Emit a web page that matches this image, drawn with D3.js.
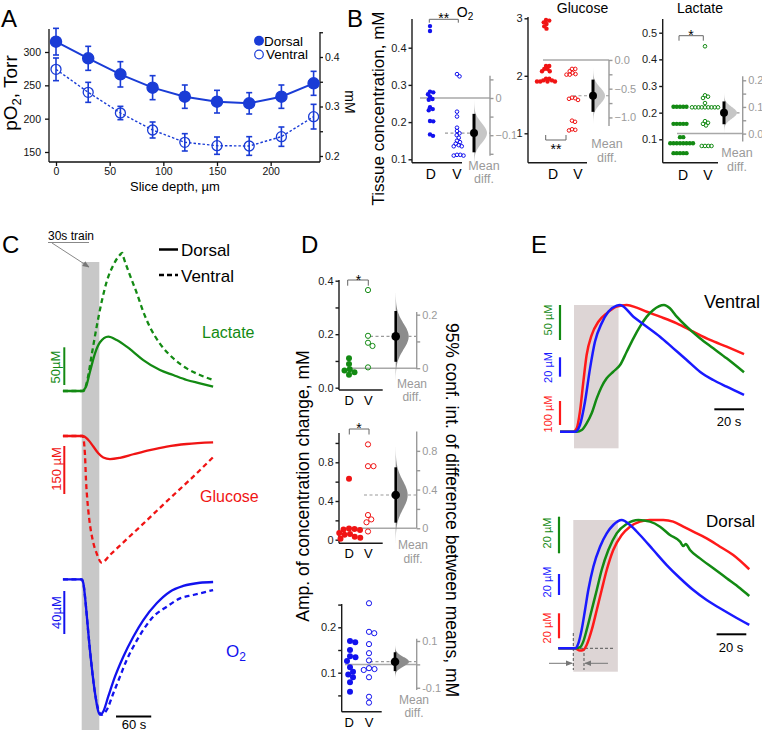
<!DOCTYPE html>
<html>
<head>
<meta charset="utf-8">
<script src="https://d3js.org/d3.v7.min.js"></script>
<style>
html,body{margin:0;padding:0;background:#fff;}
svg{display:block;}
</style>
</head>
<body>
<svg id="fig" width="762" height="730" viewBox="0 0 762 730"></svg>
<script>
// ======================= DATA =======================
// Panel A : pO2 vs slice depth
const depthA = [0, 30, 60, 90, 120, 150, 180, 210, 240];
const pO2Dorsal = [315.5, 290.5, 266.5, 246.5, 233, 225.5, 223, 233, 253];
const pO2DorsalErr = [20, 18, 19, 18, 17.5, 17, 16, 17.5, 18];
const pO2Ventral = [274, 239.5, 208.5, 183, 164.5, 159.5, 159, 173, 203];
const pO2VentralErr = [17, 15, 10, 12, 13, 13, 14, 14.5, 18.5];
const pO2Ticks = [150, 200, 250, 300];
const depthTicks = [0, 50, 100, 150, 200];
const mMTicks = [0.2, 0.25, 0.3, 0.35, 0.4, 0.45];
const mMLabels = ["0.2", "", "0.3", "", "0.4", ""];

// Panel B : tissue concentrations (mM)
const tissueO2_D = [0.458, 0.445, 0.282, 0.280, 0.275, 0.268, 0.262, 0.260, 0.240, 0.235, 0.232, 0.203, 0.202, 0.167, 0.163];
const tissueO2_V = [0.329, 0.323, 0.228, 0.215, 0.185, 0.176, 0.170, 0.165, 0.158, 0.150, 0.146, 0.142, 0.138, 0.135, 0.135, 0.112, 0.112, 0.110, 0.110];
const tissueGlc_D = [2.97, 2.96, 2.93, 2.90, 2.86, 2.82, 2.17, 2.17, 2.12, 2.12, 2.08, 2.08, 1.95, 1.92, 1.90, 1.90, 1.90, 1.90, 1.92, 1.95];
const tissueGlc_V = [2.12, 2.12, 2.08, 2.05, 2.03, 2.02, 2.02, 1.62, 1.61, 1.60, 1.58, 1.22, 1.20, 1.07, 1.06, 1.05];
const tissueLac_D = [0.222, 0.222, 0.222, 0.222, 0.222, 0.158, 0.158, 0.158, 0.158, 0.158, 0.108, 0.108,
  0.085, 0.085, 0.085, 0.085, 0.085, 0.085, 0.085, 0.085, 0.048, 0.048, 0.048, 0.048, 0.048];
const tissueLac_V = [0.449, 0.265, 0.260, 0.255, 0.236, 0.22, 0.22, 0.22, 0.22, 0.22, 0.22, 0.22, 0.22, 0.22,
  0.168, 0.162, 0.158, 0.152, 0.075, 0.075, 0.075, 0.075];
const bO2Ticks = [0.1, 0.2, 0.3, 0.4], bO2Labels = ["0.1", "0.2", "0.3", "0.4"];
const bO2DiffTicks = [0.05, 0, -0.05, -0.1, -0.15], bO2DiffLabels = ["", "0", "", "\u22120.1", ""];
const bGlcTicks = [1, 2, 3], bGlcLabels = ["1", "2", "3"];
const bGlcDiffTicks = [0, -0.25, -0.5, -0.75, -1.0], bGlcDiffLabels = ["0.0", "", "\u22120.5", "", "\u22121.0"];
const bLacTicks = [0.1, 0.2, 0.3, 0.4, 0.5], bLacLabels = ["0.1", "0.2", "0.3", "0.4", "0.5"];
const bLacDiffTicks = [0, 0.05, 0.1, 0.15, 0.2], bLacDiffLabels = ["0.0", "", "0.1", "", "0.2"];

// Panel C : responses to 30 s train  [time s, change µM]
const cLacDorsal = [[-32,0],[0,0],[7.3,5.7],[14.1,25.6],[22.7,50],[31.2,64.6],[45.3,72],[59.6,67.6],[76.7,58.8],[87.9,52],[105,41],[133.4,27.9],[156,21.2],[179,14.6],[201.5,10.2],[224,5.7]];
const cLacVentral = [[-32,0],[3,0],[9.6,14.6],[17,47.7],[25.5,85.3],[34,118.4],[42.6,145],[53.9,167],[65,180.4],[69,183],[71,178],[82,154],[94,129.6],[105,105],[116,85.3],[133,63.2],[156,43.4],[179,30],[201.5,21.2],[224,14.6]];
const cGlcDorsal = [[-32,0],[1.7,0],[11.3,-12.5],[19.8,-33],[28.3,-54],[36.8,-67],[48.2,-72],[65.2,-68],[88,-57],[116,-44],[145,-33],[179,-25],[224,-20]];
const cGlcVentral = [[-32,0],[1.7,0],[5.6,-59],[7.3,-137],[9.6,-200],[13,-262],[18.7,-325],[25.5,-367],[34,-396],[48,-372],[77,-322],[105,-274],[133,-225],[162,-175],[185,-136],[224,-66]];
const cO2Dorsal = [[-32,0],[0,0],[2.8,-3.7],[7.3,-25.5],[11.3,-50],[17,-81],[22.7,-106],[28.3,-123],[31.2,-126],[36.8,-123],[45.3,-109],[56.7,-90.6],[70.9,-72],[88,-53.4],[105,-37.9],[127.8,-22.3],[150.4,-11.5],[173,-6.2],[201.5,-3.2],[224,-2.5]];
const cO2Ventral = [[-32,0],[0,0],[2.8,-3.7],[7.3,-25.5],[11.3,-50],[17,-81],[22.7,-106],[28.3,-121],[34,-126],[42.6,-121.6],[53.9,-106],[65.2,-90.6],[76.7,-75],[88,-62.7],[105,-47],[122,-34.8],[145,-25.5],[167.5,-17.7],[190,-14.6],[224,-10]];

// Panel D : amplitude of concentration change (mM)
const ampLac_D = [0.110, 0.089, 0.069, 0.064, 0.058, 0.048];
const ampLac_V = [0.365, 0.194, 0.168, 0.156, 0.076];
const ampGlc_D = [0.63, 0.115, 0.11, 0.105, 0.10, 0.07, 0.06, 0.05, 0.03, 0.02, 0.01];
const ampGlc_V = [0.985, 0.76, 0.76, 0.255, 0.21, 0.18, 0.085];
const ampO2_D = [0.170, 0.167, 0.150, 0.136, 0.134, 0.126, 0.112, 0.102, 0.096, 0.090, 0.079, 0.058];
const ampO2_V = [0.253, 0.190, 0.187, 0.163, 0.143, 0.127, 0.110, 0.108, 0.106, 0.090, 0.047, 0.034];
const dLacTicks = [0, 0.1, 0.2, 0.3, 0.4], dLacLabels = ["0.0", "", "0.2", "", "0.4"];
const dLacDiffTicks = [0, 0.1, 0.2], dLacDiffLabels = ["0", "", "0.2"];
const dGlcTicks = [0, 0.2, 0.4, 0.6, 0.8, 1.0], dGlcLabels = ["0", "", "0.4", "", "0.8", ""];
const dGlcDiffTicks = [0, 0.2, 0.4, 0.6, 0.8], dGlcDiffLabels = ["0", "", "0.4", "", "0.8"];
const dO2Ticks = [0.05, 0.1, 0.15, 0.2, 0.25], dO2Labels = ["", "0.1", "", "0.2", ""];
const dO2DiffTicks = [0.1, 0, -0.1], dO2DiffLabels = ["0.1", "", "-0.1"];

// Panel E : normalised responses [time s, normalised]
const eVentralRed = [[-9.4,0],[-0.5,0],[1.8,0.026],[4,0.158],[6.3,0.395],[8.5,0.605],[11.9,0.763],[16.4,0.868],[22,0.934],[28.7,0.987],[35.5,1],[42.2,0.979],[49,0.947],[57.9,0.908],[69.2,0.855],[80.3,0.789],[91.6,0.724],[102.8,0.671],[114.5,0.613]];
const eVentralGreen = [[-9.4,0],[1.8,0],[5.2,0.013],[8.5,0.066],[11.9,0.145],[15.3,0.263],[18.6,0.355],[22,0.421],[26.5,0.474],[31,0.526],[35.5,0.631],[40,0.737],[44.4,0.829],[49,0.908],[53.4,0.961],[60.6,1],[64.6,0.974],[69.2,0.908],[75.9,0.829],[84.8,0.737],[93.8,0.658],[102.8,0.579],[114.5,0.469]];
const eVentralBlue = [[-9.4,0],[0.7,0],[4,0.053],[7.4,0.237],[10.8,0.5],[14.1,0.71],[18.6,0.855],[23.1,0.947],[28.7,0.995],[31,1],[40,0.908],[49,0.829],[57.9,0.75],[66.9,0.658],[75.9,0.566],[84.8,0.474],[93.8,0.408],[102.8,0.355],[114.5,0.29]];
const eDorsalRed = [[-10.1,0],[1.1,0],[4.5,-0.018],[6.7,-0.013],[9,0.026],[12.4,0.143],[15.8,0.299],[19.1,0.454],[22.5,0.61],[26.9,0.766],[32.6,0.883],[38.2,0.948],[44.9,0.987],[51.6,1],[60.6,1],[67.3,0.987],[74.1,0.948],[80.8,0.909],[89.8,0.857],[98.8,0.792],[107.7,0.727],[118.5,0.616]];
const eDorsalGreen = [[-10.1,0],[1.1,0],[4.5,0.008],[6.7,0.052],[9,0.143],[12.4,0.299],[15.8,0.454],[19.1,0.61],[23.6,0.766],[29.2,0.896],[36,0.969],[43.8,1],[51.6,0.987],[58.4,0.948],[65.1,0.883],[71.9,0.831],[74.1,0.797],[75.7,0.813],[78.6,0.766],[85.3,0.701],[94.3,0.624],[103.3,0.546],[112.3,0.468],[118.5,0.408]];
const eDorsalBlue = [[-10.1,0],[1.1,0],[3.4,0.039],[5.6,0.143],[7.9,0.299],[10.1,0.454],[13.5,0.636],[18,0.792],[22.5,0.896],[26.9,0.961],[32.6,1],[38.2,0.961],[44.9,0.883],[53.9,0.766],[62.9,0.649],[71.9,0.546],[80.8,0.454],[89.8,0.376],[98.8,0.312],[107.7,0.252],[118.5,0.182]];
const trainDuration = 30;

// ======================= HELPERS =======================
const svg = d3.select("#fig");
const FF = "'Liberation Sans', Arial, Helvetica, sans-serif";
const BLUE = "#1212ee", RED = "#f01414", GREEN = "#138a13", ABLUE = "#1a3cd6";
const GRAY = "#9a9a9a";

function T(g, x, y, s, size, o = {}) {
  const t = g.append("text").attr("x", x).attr("y", y)
    .attr("font-family", FF).attr("font-size", size)
    .attr("fill", o.fill || "#000").attr("text-anchor", o.anchor || "start");
  if (o.rotate) t.attr("transform", `rotate(${o.rotate},${x},${y})`);
  if (s !== null) t.text(s);
  return t;
}
function L(g, x1, y1, x2, y2, stroke, w, dash) {
  const l = g.append("line").attr("x1", x1).attr("y1", y1).attr("x2", x2).attr("y2", y2)
    .attr("stroke", stroke).attr("stroke-width", w);
  if (dash) l.attr("stroke-dasharray", dash);
  return l;
}
function axisV(g, x, scale, ticks, labels, side, y0, y1, color, size, o = {}) {
  const a = (side === "left" ? d3.axisLeft(scale) : d3.axisRight(scale))
    .tickValues(ticks).tickFormat((d, i) => labels[i])
    .tickSize(o.tick || 4).tickSizeOuter(0).tickPadding(o.pad ?? 2);
  const ag = g.append("g").attr("transform", `translate(${x},0)`).call(a);
  ag.select(".domain").remove();
  ag.selectAll(".tick line").attr("stroke", color).attr("stroke-width", o.lw || 1.3);
  ag.selectAll(".tick text").attr("fill", o.textColor || color).attr("font-size", size).attr("font-family", FF);
  ag.append("line").attr("y1", y0).attr("y2", y1).attr("stroke", color).attr("stroke-width", o.lw || 1.3);
  return ag;
}
function swarm(vals, y, cx, gap) {
  const pts = vals.map(v => ({ v, y: y(v) })).sort((a, b) => a.y - b.y);
  const placed = [];
  for (const p of pts) {
    let best = 0;
    for (let k = 0; k < 600; k++) {
      const off = (k % 2 ? 1 : -1) * Math.ceil(k / 2) * 0.25;
      const ok = placed.every(q => (q.x - (cx + off)) ** 2 + (q.y - p.y) ** 2 >= gap * gap - 1e-6);
      if (ok) { best = off; break; }
    }
    p.x = cx + best;
    placed.push(p);
  }
  return placed;
}

const defs = svg.append("defs");
defs.append("marker").attr("id", "arr").attr("viewBox", "0 0 10 10").attr("refX", 9).attr("refY", 5)
  .attr("markerWidth", 7).attr("markerHeight", 7).attr("orient", "auto")
  .append("path").attr("d", "M0,1L10,5L0,9Z").attr("fill", "#777");

// ======================= PANEL A =======================
const gA = svg.append("g");
const xA = d3.scaleLinear().domain([0, 240]).range([56, 313.6]);
const yA = d3.scaleLinear().domain([150, 300]).range([152, 52]);
const yA2 = d3.scaleLinear().domain([0.2, 0.4]).range([156, 57]);
axisV(gA, 49, yA, pO2Ticks, pO2Ticks.map(String), "left", 29, 162, "#111", 10.5, { tick: 4, pad: 4 });
axisV(gA, 320, yA2, mMTicks, mMLabels, "right", 32, 162, "#111", 10.5, { tick: 3, pad: 2 });
const xbA = gA.append("g").attr("transform", "translate(0,162)")
  .call(d3.axisBottom(xA).tickValues(depthTicks).tickSize(4).tickSizeOuter(0).tickPadding(2));
xbA.select(".domain").remove();
xbA.selectAll(".tick line").attr("stroke", "#111").attr("stroke-width", 1.3);
xbA.selectAll(".tick text").attr("font-size", 10.5).attr("font-family", FF).attr("fill", "#111");
L(gA, 49, 162, 320, 162, "#111", 1.3);

function seriesA(vals, errs, dashed, filled) {
  const line = d3.line().x((d, i) => xA(depthA[i])).y(d => yA(d));
  gA.append("path").attr("d", line(vals)).attr("fill", "none").attr("stroke", ABLUE)
    .attr("stroke-width", dashed ? 1.4 : 2).attr("stroke-dasharray", dashed ? "2.5,2" : null);
  vals.forEach((v, i) => {
    const x = xA(depthA[i]);
    L(gA, x, yA(v - errs[i]), x, yA(v + errs[i]), ABLUE, 1.6);
    L(gA, x - 3, yA(v - errs[i]), x + 3, yA(v - errs[i]), ABLUE, 1.6);
    L(gA, x - 3, yA(v + errs[i]), x + 3, yA(v + errs[i]), ABLUE, 1.6);
    gA.append("circle").attr("cx", x).attr("cy", yA(v)).attr("r", filled ? 5.6 : 5)
      .attr("fill", filled ? ABLUE : "none").attr("stroke", ABLUE).attr("stroke-width", 1.3);
  });
}
seriesA(pO2Ventral, pO2VentralErr, true, false);
seriesA(pO2Dorsal, pO2DorsalErr, false, true);
T(gA, 175, 191, "Slice depth, \u00b5m", 13, { anchor: "middle" });
const pl = T(gA, 17, 93, null, 19, { anchor: "middle", rotate: -90 });
pl.append("tspan").text("pO");
pl.append("tspan").text("2").attr("font-size", 13).attr("dy", 4);
pl.append("tspan").text(", Torr").attr("dy", -4);
T(gA, 345, 102, "mM", 14, { anchor: "middle", rotate: 90 });
gA.append("circle").attr("cx", 259).attr("cy", 40.7).attr("r", 5).attr("fill", ABLUE);
T(gA, 264, 45.5, "Dorsal", 13.5);
gA.append("circle").attr("cx", 259).attr("cy", 54.5).attr("r", 4.3).attr("fill", "none").attr("stroke", ABLUE).attr("stroke-width", 1.2);
T(gA, 266, 59.3, "Ventral", 13.5);

// ======================= ESTIMATION PLOTS (B, D) =======================
function estPlot(c) {
  const g = svg.append("g");
  const y = d3.scaleLinear().domain(c.domain).range(c.range);
  const mD = d3.mean(c.D), mV = d3.mean(c.V), diff = mV - mD;
  const se = Math.sqrt(d3.variance(c.D) / c.D.length + d3.variance(c.V) / c.V.length);
  const yd = d3.scaleLinear().domain([0, 1]).range([y(mD), y(mD) + (y(1) - y(0)) * (c.diffK || 1)]);
  axisV(g, c.axX, y, c.ticks, c.tickLabels, "left", c.axTop, c.axBot, "#1a1a1a", c.tf, { tick: 3.5, pad: 2, lw: 1.4 });
  L(g, c.axX, c.axBot, c.axEnd, c.axBot, "#1a1a1a", 1.4);
  T(g, c.dLabX, c.labY, "D", c.lf, { anchor: "middle" });
  T(g, c.vLabX, c.labY, "V", c.lf, { anchor: "middle" });
  L(g, c.mDx0, yd(0), c.diffX, yd(0), "#a8a8a8", 1.5);
  L(g, c.mVx0, yd(diff), c.diffX, yd(diff), "#9a9a9a", 1.2, "3,2.5");
  axisV(g, c.diffX, yd, c.dTicks, c.dLabels, "right", yd(c.dTop), yd(c.dBot), GRAY, c.tf, { tick: 3.5, pad: 2, lw: 1.4 });
  swarm(c.D, y, c.dX, c.gap).forEach(p => g.append("circle").attr("cx", p.x).attr("cy", p.y)
    .attr("r", c.r).attr("fill", c.color));
  swarm(c.V, y, c.vX, c.gap).forEach(p => g.append("circle").attr("cx", p.x).attr("cy", p.y)
    .attr("r", c.r - 0.4).attr("fill", "#fff").attr("fill-opacity", 0).attr("stroke", c.color).attr("stroke-width", 1));
  const zs = d3.range(-3.4, 3.41, 0.1);
  const area = d3.area().curve(d3.curveBasis).y(z => yd(diff + z * se))
    .x0(c.ciX).x1(z => c.ciX + c.vw * Math.exp(-0.5 * z * z));
  g.append("path").attr("d", area(zs)).attr("fill", c.vfill);
  L(g, c.ciX, yd(diff - 1.96 * se), c.ciX, yd(diff + 1.96 * se), "#000", c.ciW);
  g.append("circle").attr("cx", c.ciX).attr("cy", yd(diff)).attr("r", c.dotR).attr("fill", "#000");
  T(g, c.mdX, c.mdY[0], "Mean", c.mf, { anchor: "middle", fill: GRAY });
  T(g, c.mdX, c.mdY[1], "diff.", c.mf, { anchor: "middle", fill: GRAY });
  if (c.br) {
    const b = c.br;
    g.append("path").attr("d", `M${b.x1},${b.y + b.tick}V${b.y}H${b.x2}V${b.y + b.tick}`)
      .attr("fill", "none").attr("stroke", "#666").attr("stroke-width", 1);
    T(g, b.lx, b.ly, b.label, 14, { anchor: "middle" });
  }
  if (c.title) {
    const t = T(g, c.title.x, c.title.y, null, 14, { anchor: "middle" });
    t.append("tspan").text(c.title.text);
    if (c.title.sub) t.append("tspan").text(c.title.sub).attr("font-size", 10).attr("dy", 3);
  }
  return g;
}

const bCommon = { tf: 11, lf: 14, mf: 12.5, r: 2.2, gap: 3.2, vfill: "#c6c6c6", ciW: 3, dotR: 4 };
estPlot(Object.assign({}, bCommon, {
  D: tissueO2_D, V: tissueO2_V, color: BLUE,
  domain: [0.1, 0.4], range: [159.3, 47.7], axX: 412, axTop: 19, axBot: 162.7, axEnd: 462,
  ticks: bO2Ticks, tickLabels: bO2Labels, dX: 430, vX: 457, dLabX: 430.7, vLabX: 457, labY: 178.5,
  diffX: 490, dTicks: bO2DiffTicks, dLabels: bO2DiffLabels, dTop: 0.06, dBot: -0.155,
  mDx0: 420, mVx0: 445, ciX: 474, vw: 13, mdX: 484, mdY: [169.5, 183],
  br: { x1: 429.3, x2: 458.3, y: 19.3, tick: 3.4, label: "**", lx: 443.8, ly: 22.7 },
  title: { text: "O", sub: "2", x: 465, y: 16.7 }
}));
estPlot(Object.assign({}, bCommon, {
  D: tissueGlc_D, V: tissueGlc_V, color: RED,
  domain: [1, 3], range: [133.3, 18.3], axX: 528, axTop: 17, axBot: 162.7, axEnd: 587,
  ticks: bGlcTicks, tickLabels: bGlcLabels, dX: 546, vX: 572, dLabX: 553, vLabX: 578, labY: 178.5,
  diffX: 609, dTicks: bGlcDiffTicks, dLabels: bGlcDiffLabels, dTop: 0, dBot: -1.15,
  mDx0: 543, mVx0: 573, ciX: 593, vw: 12, mdX: 607, mdY: [148, 161.5],
  br: { x1: 545.7, x2: 566, y: 140, tick: -5, label: "**", lx: 556, ly: 154 },
  title: { text: "Glucose", x: 582.5, y: 13.3 }
}));
estPlot(Object.assign({}, bCommon, {
  D: tissueLac_D, V: tissueLac_V, color: GREEN,
  domain: [0.1, 0.5], range: [139.3, 32.7], axX: 662.7, axTop: 19, axBot: 162.7, axEnd: 718,
  ticks: bLacTicks, tickLabels: bLacLabels, dX: 680, vX: 705, dLabX: 683, vLabX: 708, labY: 180,
  diffX: 742.7, dTicks: bLacDiffTicks, dLabels: bLacDiffLabels, dTop: 0.215, dBot: -0.03,
  mDx0: 677, mVx0: 720, ciX: 724, vw: 13, mdX: 737, mdY: [157, 170.5],
  br: { x1: 679, x2: 703.3, y: 35.7, tick: 5, label: "*", lx: 691, ly: 39.5 },
  title: { text: "Lactate", x: 700, y: 13.3 }
}));

const dCommon = { tf: 11, lf: 13, mf: 12, r: 3, gap: 5.4, vfill: "#8c8c8c", ciW: 2.6, dotR: 4.3 };
estPlot(Object.assign({}, dCommon, {
  D: ampLac_D, V: ampLac_V, color: GREEN,
  domain: [0, 0.4], range: [387.7, 280.7], axX: 339, axTop: 280, axBot: 390, axEnd: 382.7,
  ticks: dLacTicks, tickLabels: dLacLabels, dX: 349, vX: 368, dLabX: 349.3, vLabX: 368.3, labY: 405,
  diffX: 416.7, dTicks: dLacDiffTicks, dLabels: dLacDiffLabels, dTop: 0.21, dBot: -0.004,
  mDx0: 350, mVx0: 370, ciX: 395.7, vw: 13, mdX: 412, mdY: [387.5, 401],
  br: { x1: 347.7, x2: 368.3, y: 280, tick: 5.7, label: "*", lx: 358.5, ly: 284.5 }
}));
estPlot(Object.assign({}, dCommon, {
  D: ampGlc_D, V: ampGlc_V, color: RED,
  domain: [0, 0.8], range: [539.7, 462.3], axX: 339, axTop: 433, axBot: 543.3, axEnd: 382.7,
  ticks: dGlcTicks, tickLabels: dGlcLabels, dX: 349, vX: 368, dLabX: 349.3, vLabX: 368.3, labY: 558,
  diffX: 416.7, dTicks: dGlcDiffTicks, dLabels: dGlcDiffLabels, dTop: 1.0, dBot: 0,
  mDx0: 348, mVx0: 364, ciX: 395.7, vw: 12, mdX: 413, mdY: [549, 562.5],
  br: { x1: 349.3, x2: 369, y: 429, tick: 5.5, label: "*", lx: 359, ly: 433.3 }
}));
estPlot(Object.assign({}, dCommon, {
  D: ampO2_D, V: ampO2_V, color: BLUE,
  domain: [0.1, 0.2], range: [672.7, 627.3], axX: 341.7, axTop: 604, axBot: 711.7, axEnd: 381.7,
  ticks: dO2Ticks, tickLabels: dO2Labels, dX: 350, vX: 369, dLabX: 349.3, vLabX: 369, labY: 727,
  diffX: 416.7, diffK: 0.515, dTicks: dO2DiffTicks, dLabels: dO2DiffLabels, dTop: 0.11, dBot: -0.11,
  mDx0: 345, mVx0: 370, ciX: 395, vw: 14, mdX: 414, mdY: [703.5, 717]
}));
T(svg, 384, 108.5, "Tissue concentration, mM", 17, { anchor: "middle", rotate: -90 });
T(svg, 309, 486, "Amp. of concentration change, mM", 17.5, { anchor: "middle", rotate: -90 });
T(svg, 446, 510, "95% conf. int. of difference between means, mM", 17.5, { anchor: "middle", rotate: 90 });

// ======================= PANEL C =======================
const gC = svg.append("g");
const tC = d3.scaleLinear().domain([0, 30]).range([81.7, 99.3]);
const yLacC = d3.scaleLinear().domain([0, 50]).range([391, 353.3]);
const yGlcC = d3.scaleLinear().domain([0, -150]).range([436, 484]);
const yO2C = d3.scaleLinear().domain([0, -40]).range([579.3, 622.3]);
gC.append("rect").attr("x", tC(0)).attr("y", 262).attr("width", tC(trainDuration) - tC(0)).attr("height", 468).attr("fill", "#c8c8c8");
function traceC(data, ys, color, dashed) {
  const line = d3.line().curve(d3.curveMonotoneX).x(d => tC(d[0])).y(d => ys(d[1]));
  gC.append("path").attr("d", line(data)).attr("fill", "none").attr("stroke", color)
    .attr("stroke-width", 2.3).attr("stroke-dasharray", dashed ? "5,3.5" : null);
}
traceC(cLacVentral, yLacC, GREEN, true);
traceC(cLacDorsal, yLacC, GREEN, false);
traceC(cGlcVentral, yGlcC, RED, true);
traceC(cGlcDorsal, yGlcC, RED, false);
traceC(cO2Ventral, yO2C, BLUE, true);
traceC(cO2Dorsal, yO2C, BLUE, false);
// scale bars
L(gC, 64.3, 385, 64.3, 385 - (yLacC(0) - yLacC(50)), GREEN, 2);
T(gC, 60, 367, "50\u00b5M", 13, { anchor: "middle", rotate: -90, fill: GREEN });
L(gC, 64.3, 446, 64.3, 446 + (yGlcC(-150) - yGlcC(0)), RED, 2);
T(gC, 60.5, 469, "150 \u00b5M", 13, { anchor: "middle", rotate: -90, fill: RED });
L(gC, 64.3, 591, 64.3, 591 + (yO2C(-40) - yO2C(0)), BLUE, 2);
T(gC, 61, 612.5, "40\u00b5M", 13, { anchor: "middle", rotate: -90, fill: BLUE });
L(gC, tC(58.5), 716.5, tC(118.5), 716.5, "#000", 2);
T(gC, 134, 728.5, "60 s", 13, { anchor: "middle" });
T(gC, 202, 338.3, "Lactate", 16, { fill: GREEN });
T(gC, 200, 501.7, "Glucose", 16, { fill: RED });
const o2t = T(gC, 226, 656.7, null, 17, { fill: BLUE });
o2t.append("tspan").text("O");
o2t.append("tspan").text("2").attr("font-size", 12).attr("dy", 4);
// legend
L(gC, 159, 249.5, 178, 249.5, "#000", 2.5);
T(gC, 181, 255.5, "Dorsal", 17);
L(gC, 159, 275, 178, 275, "#000", 2.5, "5,3");
T(gC, 181, 281.5, "Ventral", 17);
// 30s train annotation
T(gC, 48, 240, "30s train", 12);
L(gC, 48, 242.5, 89, 242.5, "#888", 1);
gC.append("line").attr("x1", 52).attr("y1", 243).attr("x2", 89).attr("y2", 267)
  .attr("stroke", "#888").attr("stroke-width", 1).attr("marker-end", "url(#arr)");

// ======================= PANEL E =======================
const gE = svg.append("g");
const tEV = d3.scaleLinear().domain([0, 20]).range([574, 603.7]);
const yEV = d3.scaleLinear().domain([0, 1]).range([431.7, 305]);
const tED = d3.scaleLinear().domain([0, 20]).range([573.3, 603]);
const yED = d3.scaleLinear().domain([0, 1]).range([648.3, 520]);
gE.append("rect").attr("x", tEV(0)).attr("y", 305).attr("width", tEV(trainDuration) - tEV(0)).attr("height", 143.3).attr("fill", "#ddd5d5");
gE.append("rect").attr("x", tED(0)).attr("y", 520).attr("width", tED(trainDuration) - tED(0)).attr("height", 151.7).attr("fill", "#ddd5d5");
function traceE(data, ts, ys, color) {
  const line = d3.line().curve(d3.curveMonotoneX).x(d => ts(d[0])).y(d => ys(d[1]));
  gE.append("path").attr("d", line(data)).attr("fill", "none").attr("stroke", color).attr("stroke-width", 2.5);
}
traceE(eVentralRed, tEV, yEV, "#ff1a1a");
traceE(eVentralGreen, tEV, yEV, GREEN);
traceE(eVentralBlue, tEV, yEV, "#1a1aff");
// dorsal guides
L(gE, 570, yED(0), 613, yED(0), "#555", 1, "3,2");
L(gE, tED(0), 633, tED(0), 670, "#555", 1, "3,2");
L(gE, tED(7.2), 648, tED(7.2), 670, "#555", 1, "3,2");
gE.append("line").attr("x1", 549).attr("y1", 663.3).attr("x2", tED(0) - 1).attr("y2", 663.3)
  .attr("stroke", "#777").attr("stroke-width", 1).attr("marker-end", "url(#arr)");
gE.append("line").attr("x1", 608).attr("y1", 663.3).attr("x2", tED(7.2) + 1).attr("y2", 663.3)
  .attr("stroke", "#777").attr("stroke-width", 1).attr("marker-end", "url(#arr)");
traceE(eDorsalRed, tED, yED, "#ff1a1a");
traceE(eDorsalGreen, tED, yED, GREEN);
traceE(eDorsalBlue, tED, yED, "#1a1aff");
// scale bars E
L(gE, 560, 305, 560, 340, GREEN, 2.2);
T(gE, 552, 320, "50 \u00b5M", 11, { anchor: "middle", rotate: -90, fill: GREEN });
L(gE, 560, 357.3, 560, 376.7, "#1a1aff", 2.2);
T(gE, 552, 367.5, "20 \u00b5M", 11, { anchor: "middle", rotate: -90, fill: "#1a1aff" });
L(gE, 560, 401, 560, 425, "#ff1a1a", 2.2);
T(gE, 552, 414, "100 \u00b5M", 11, { anchor: "middle", rotate: -90, fill: "#ff1a1a" });
L(gE, 559, 516.7, 559, 553.3, GREEN, 2.2);
T(gE, 551, 533, "20 \u00b5M", 11, { anchor: "middle", rotate: -90, fill: GREEN });
L(gE, 559, 574, 559, 595, "#1a1aff", 2.2);
T(gE, 551, 582, "20 \u00b5M", 11, { anchor: "middle", rotate: -90, fill: "#1a1aff" });
L(gE, 559, 613.3, 559, 638.3, "#ff1a1a", 2.2);
T(gE, 551, 628, "20 \u00b5M", 11, { anchor: "middle", rotate: -90, fill: "#ff1a1a" });
// time bars
L(gE, tEV(94.5), 409.3, tEV(114.5), 409.3, "#000", 2);
T(gE, 729, 425.5, "20 s", 13, { anchor: "middle" });
L(gE, tED(96.5), 634.3, tED(116.5), 634.3, "#000", 2);
T(gE, 731, 651.5, "20 s", 13, { anchor: "middle" });
T(gE, 704, 308, "Ventral", 18);
T(gE, 706, 527, "Dorsal", 17);

// ======================= PANEL LETTERS =======================
T(svg, 1, 27, "A", 24);
T(svg, 347, 27, "B", 24);
T(svg, 2, 253, "C", 24);
T(svg, 301, 253, "D", 24);
T(svg, 531, 253, "E", 24);
</script>
</body>
</html>
